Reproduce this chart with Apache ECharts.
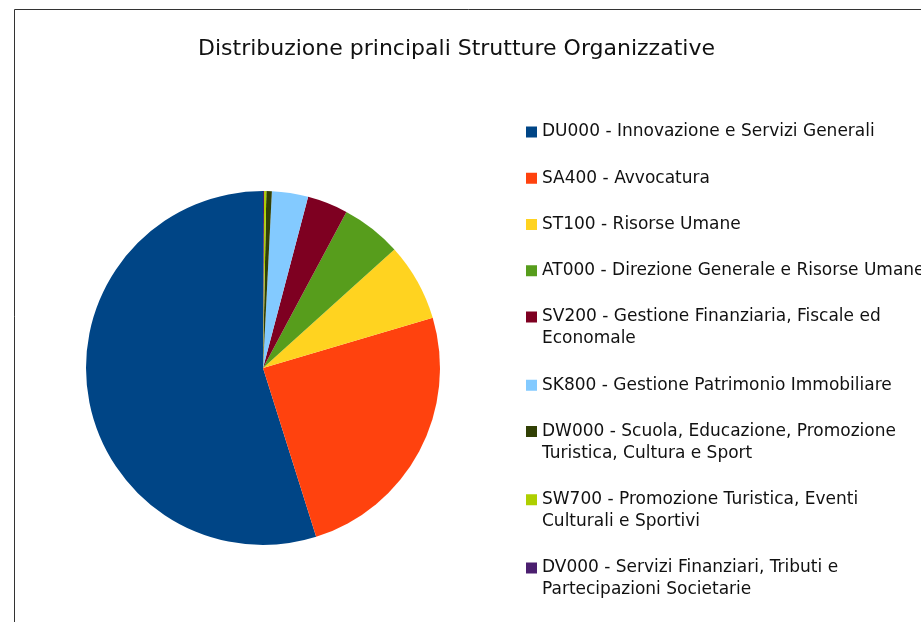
<!DOCTYPE html>
<html>
<head>
<meta charset="utf-8">
<script src="https://cdn.jsdelivr.net/npm/echarts@6/dist/echarts.min.js"></script>
<style>html,body{margin:0;padding:0;background:#fff}#c{width:921px;height:622px}</style>
</head>
<body>
<div id="c"></div>
<script>
const titleText = 'Distribuzione principali Strutture Organizzative';
const categories = [
  'DU000 - Innovazione e Servizi Generali',
  'SA400 - Avvocatura',
  'ST100 - Risorse Umane',
  'AT000 - Direzione Generale e Risorse Umane',
  'SV200 - Gestione Finanziaria, Fiscale ed Economale',
  'SK800 - Gestione Patrimonio Immobiliare',
  'DW000 - Scuola, Educazione, Promozione Turistica, Cultura e Sport',
  'SW700 - Promozione Turistica, Eventi Culturali e Sportivi',
  'DV000 - Servizi Finanziari, Tributi e Partecipazioni Societarie'
];
const legendLabels = [
  'DU000 - Innovazione e Servizi Generali',
  'SA400 - Avvocatura',
  'ST100 - Risorse Umane',
  'AT000 - Direzione Generale e Risorse Umane',
  'SV200 - Gestione Finanziaria, Fiscale ed\nEconomale',
  'SK800 - Gestione Patrimonio Immobiliare',
  'DW000 - Scuola, Educazione, Promozione\nTuristica, Cultura e Sport',
  'SW700 - Promozione Turistica, Eventi\nCulturali e Sportivi',
  'DV000 - Servizi Finanziari, Tributi e\nPartecipazioni Societarie'
];
const values = [548, 247, 71, 55, 37, 33, 5, 2, 1];
const colors = ['#004586', '#ff420e', '#ffd320', '#579d1c', '#7e0021', '#83caff', '#314004', '#aecf00', '#4b1f6f'];

const FONT = 'DejaVu Sans';
const chart = echarts.init(document.getElementById('c'), null, {renderer: 'canvas'});
const labelMap = {};
categories.forEach((c, i) => { labelMap[c] = legendLabels[i]; });

// square icon; for two-line entries the square sits at the top of a taller box
const ICON_ONE = 'path://M0,0L11,0L11,11L0,11Z';
const ICON_TWO = 'path://M0,0L11,0L11,11L0,11Z M0,33L0,33';

const legendData = categories.map((c, i) => ({
  name: c,
  icon: legendLabels[i].indexOf('\n') >= 0 ? ICON_TWO : ICON_ONE
}));

chart.setOption({
  animation: false,
  backgroundColor: '#ffffff',
  color: colors,
  title: {
    text: titleText,
    left: 193,
    top: 33,
    textStyle: {fontFamily: FONT, fontSize: 22, fontWeight: 'normal', color: '#111'}
  },
  legend: {
    orient: 'vertical',
    left: 521,
    top: 116,
    itemWidth: 11,
    itemHeight: 33,
    itemGap: 24.25,
    symbolKeepAspect: true,
    data: legendData,
    formatter: name => labelMap[name],
    textStyle: {fontFamily: FONT, fontSize: 17, lineHeight: 22, color: '#111'}
  },
  graphic: [{
    type: 'rect',
    shape: {x: 14.5, y: 9.5, width: 1000, height: 1000},
    style: {fill: 'none', stroke: '#333', lineWidth: 1},
    silent: true
  }],
  series: [{
    type: 'pie',
    center: [263, 368],
    radius: 177,
    startAngle: 90,
    clockwise: false,
    label: {show: false},
    labelLine: {show: false},
    itemStyle: {borderWidth: 0},
    emphasis: {disabled: true},
    data: categories.map((c, i) => ({name: c, value: values[i]}))
  }]
});
</script>
</body>
</html>
